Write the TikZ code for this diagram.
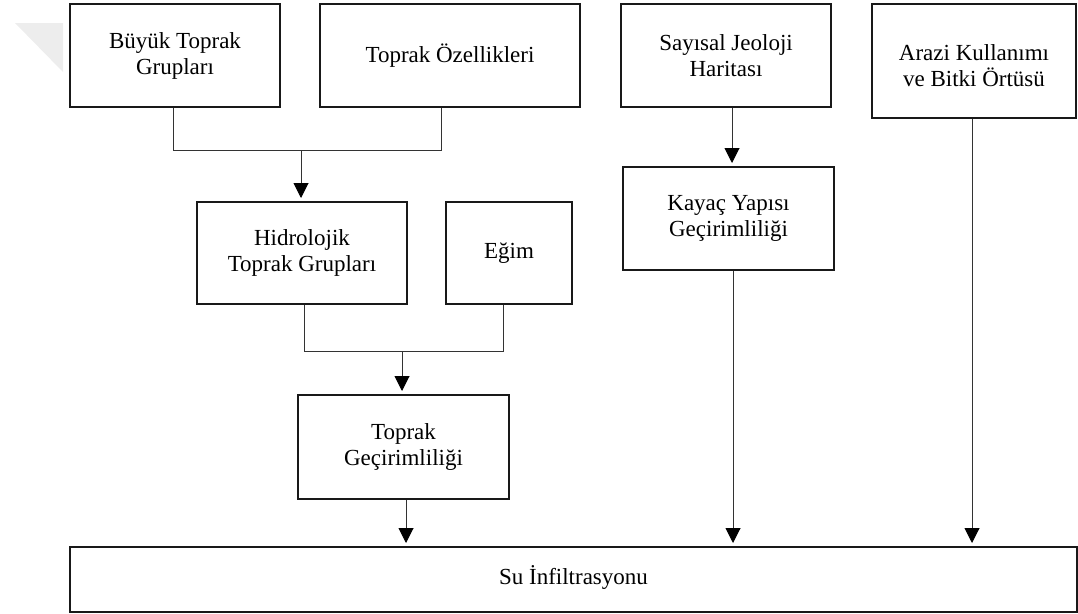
\documentclass[tikz,border=0pt]{standalone}
\usepackage{fontspec}
\setmainfont{Liberation Serif}
\usetikzlibrary{arrows.meta}

\tikzset{
  box/.style={draw=black!90, line width=2pt, inner sep=0pt, align=center,
    font=\fontsize{23}{26}\selectfont},
  txt/.style={inner sep=0pt, align=center, font=\fontsize{23}{26}\selectfont},
  link/.style={draw=black!80, line width=1pt},
  arrow/.style={link, -{Triangle[width=15pt,length=15pt,color=black]}, shorten >=3pt},
}

\begin{document}
\begin{tikzpicture}[x=1pt, y=-1pt]
  \useasboundingbox (0,0) rectangle (1078,613);

  % faint corner mark
  \fill[black!7] (15,23) -- (63,23) -- (63,72) -- cycle;

  % input layers
  \node[box, minimum width=210pt, minimum height=103pt] (b1) at (175,55.5)
    {Büyük Toprak\\Grupları};
  \node[box, minimum width=260pt, minimum height=103pt] (b2) at (450,55.5)
    {Toprak Özellikleri};
  \node[box, minimum width=210pt, minimum height=103pt] (b3) at (726,55.5)
    {Sayısal Jeoloji\\Haritası};
  \node[box, minimum width=204pt, minimum height=114pt] (b4) at (974,61) {};
  \node[txt] (b4t) at ([yshift=-5pt]b4.center) {Arazi Kullanımı\\ve Bitki Örtüsü};

  % derived layers
  \node[box, minimum width=210pt, minimum height=102pt] (b5) at (302,253)
    {Hidrolojik\\Toprak Grupları};
  \node[box, minimum width=126pt, minimum height=102pt] (b6) at (509,253)
    {Eğim};
  \node[box, minimum width=211pt, minimum height=103pt] (b7) at (728.5,218.5)
    {Kayaç Yapısı\\Geçirimliliği};
  \node[box, minimum width=211pt, minimum height=104pt] (b8) at (403.5,447)
    {Toprak\\Geçirimliliği};

  % result
  \node[box, minimum width=1007pt, minimum height=65pt] (b9) at (573.5,579.5)
    {\raisebox{9pt}{Su İnfiltrasyonu}};

  % soil groups + soil properties -> hydrologic soil groups
  \coordinate (j1) at (301,150);
  \draw[link] ([xshift=-2pt]b1.south) |- ([xshift=-9pt]b2.south |- j1)
    -- ([xshift=-9pt]b2.south);
  \draw[arrow] (j1) -- (j1 |- b5.north);

  % hydrologic soil groups + slope -> soil permeability
  \coordinate (j2) at (402,351);
  \draw[link] ([xshift=2pt]b5.south) |- ([xshift=-6pt]b6.south |- j2)
    -- ([xshift=-6pt]b6.south);
  \draw[arrow] (j2) -- (j2 |- b8.north);

  % geology map -> rock permeability
  \draw[arrow] ([xshift=6pt]b3.south) -- ([xshift=6pt]b3.south |- b7.north);

  % everything -> water infiltration
  \draw[arrow] ([xshift=2.5pt]b8.south) -- ([xshift=2.5pt]b8.south |- b9.north);
  \draw[arrow] ([xshift=4.5pt]b7.south) -- ([xshift=4.5pt]b7.south |- b9.north);
  \draw[arrow] ([xshift=-2pt]b4.south) -- ([xshift=-2pt]b4.south |- b9.north);
\end{tikzpicture}
\end{document}
